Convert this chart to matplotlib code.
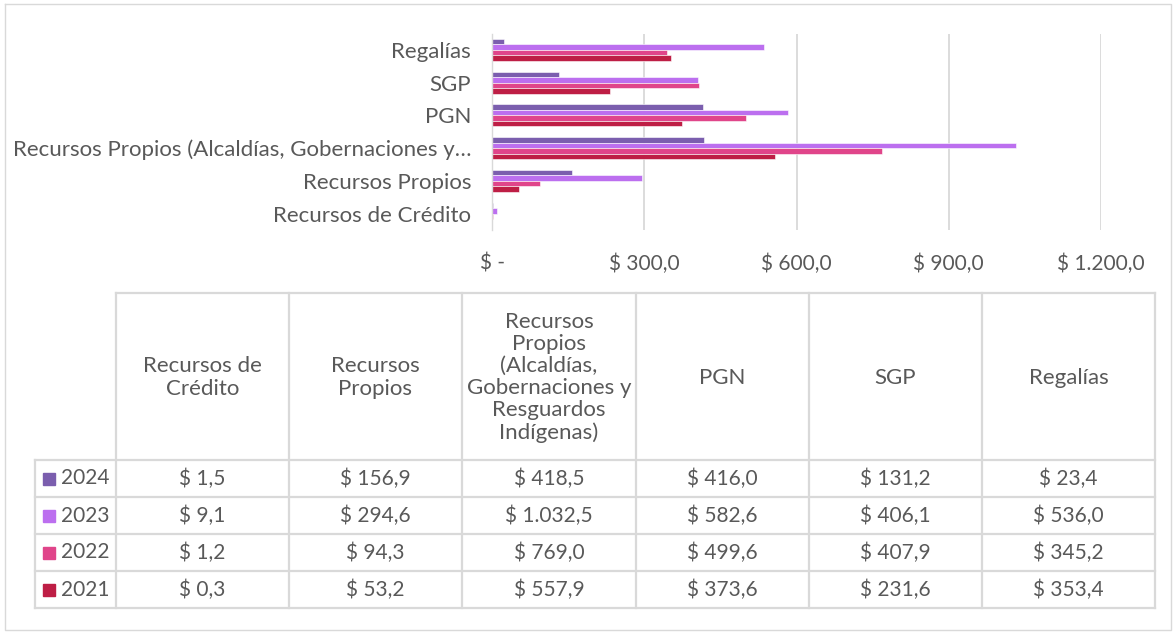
import matplotlib
matplotlib.use("Agg")
import matplotlib.pyplot as plt
import numpy as np

plt.rcParams['font.family'] = ['Lato', 'DejaVu Sans']

categories = ["Recursos de Crédito", "Recursos Propios",
              "Recursos Propios (Alcaldías, Gobernaciones y Resguardos Indígenas)",
              "PGN", "SGP", "Regalías"]
axis_labels = ["Recursos de Crédito", "Recursos Propios",
               "Recursos Propios (Alcaldías, Gobernaciones y…",
               "PGN", "SGP", "Regalías"]
header_labels = ["Recursos de\nCrédito", "Recursos\nPropios",
                 "Recursos\nPropios\n(Alcaldías,\nGobernaciones y\nResguardos\nIndígenas)",
                 "PGN", "SGP", "Regalías"]
years = ["2024", "2023", "2022", "2021"]
v2024 = [1.5, 156.9, 418.5, 416.0, 131.2, 23.4]
v2023 = [9.1, 294.6, 1032.5, 582.6, 406.1, 536.0]
v2022 = [1.2, 94.3, 769.0, 499.6, 407.9, 345.2]
v2021 = [0.3, 53.2, 557.9, 373.6, 231.6, 353.4]
series = [v2024, v2023, v2022, v2021]
colors = ["#7B5EAE", "#BC6FEF", "#E0458A", "#BE1E45"]
xticks = [0, 300, 600, 900, 1200]
xtick_labels = ["$ -", "$ 300,0", "$ 600,0", "$ 900,0", "$ 1.200,0"]

W, H = 1176, 633
fig = plt.figure(figsize=(W / 100, H / 100), dpi=100)
txt = "#595959"
grid = "#D9D9D9"
fs_word = 16
fs_num = 15

# ---- bar chart ----
ax_l, ax_r, ax_t, ax_b = 492, 1101, 33.5, 230
ax = fig.add_axes([ax_l / W, 1 - ax_b / H, (ax_r - ax_l) / W, (ax_b - ax_t) / H])
y = np.arange(len(categories))
h = 0.168
for i, (vals, col) in enumerate(zip(series, colors)):
    off = (1.5 - i) * h
    ax.barh(y + off, vals, height=h, color=col, edgecolor="white", linewidth=0.4)
ax.set_xlim(0, 1200)
ax.set_ylim(-0.5, len(categories) - 0.5)
ax.set_xticks(xticks)
ax.set_xticklabels(xtick_labels)
ax.set_yticks(y)
ax.set_yticklabels(axis_labels)
ax.tick_params(axis='x', length=0, labelsize=fs_num, colors=txt, pad=17)
ax.tick_params(axis='y', length=0, labelsize=fs_word, colors=txt, pad=15)
ax.xaxis.grid(True, color=grid, linewidth=1.3)
ax.set_axisbelow(True)
for s in ["top", "right", "bottom"]:
    ax.spines[s].set_visible(False)
ax.spines["left"].set_color(grid)
ax.spines["left"].set_linewidth(1.0)

# ---- data table (drawn in pixel coordinates) ----
tb = fig.add_axes([0, 0, 1, 1], zorder=-1)
tb.set_xlim(0, W)
tb.set_ylim(H, 0)
tb.axis("off")
lc = "#D9D9D9"
lw = 1.6
# outer frame
tb.plot([5, 5, 1171, 1171, 5], [4, 630, 630, 4, 4], color=lc, lw=1.0)
col_x = [116, 289, 462, 636, 809, 982, 1155]
first_x = 35
row_y = [293, 460, 497, 534, 571, 608]
# horizontal lines
tb.plot([col_x[0], col_x[-1]], [row_y[0], row_y[0]], color=lc, lw=lw)
for ry in row_y[1:]:
    tb.plot([first_x, col_x[-1]], [ry, ry], color=lc, lw=lw)
# vertical lines
for cx in col_x:
    tb.plot([cx, cx], [row_y[0], row_y[-1]], color=lc, lw=lw)
tb.plot([first_x, first_x], [row_y[1], row_y[-1]], color=lc, lw=lw)
# headers
for j, lab in enumerate(header_labels):
    cx = (col_x[j] + col_x[j + 1]) / 2
    cy = (row_y[0] + row_y[1]) / 2
    tb.text(cx, cy + 1, lab, ha="center", va="center", fontsize=fs_word,
            color=txt, linespacing=1.13)
# rows
for r, (yr, vals, col) in enumerate(zip(years, series, colors)):
    cy = (row_y[r + 1] + row_y[r + 2]) / 2
    tb.add_patch(plt.Rectangle((43, cy - 6), 12, 12, color=col))
    tb.text(61, cy, yr, ha="left", va="center", fontsize=fs_num, color=txt)
    for j, v in enumerate(vals):
        cx = (col_x[j] + col_x[j + 1]) / 2
        s = f"{v:,.1f}".replace(",", "X").replace(".", ",").replace("X", ".")
        tb.text(cx, cy, "$ " + s, ha="center", va="center", fontsize=fs_num, color=txt)

fig.savefig("out.png", dpi=100)
